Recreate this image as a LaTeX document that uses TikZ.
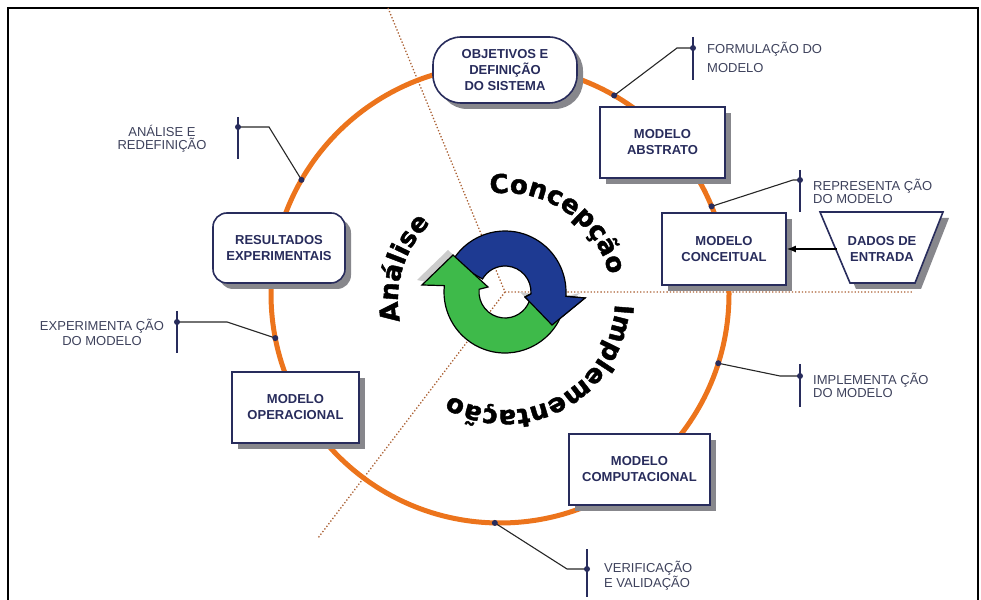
\documentclass[tikz,border=0pt]{standalone}
\usepackage{fontspec}
\setmainfont{Liberation Sans}
\newfontfamily\dejavu{DejaVu Sans}[BoldFeatures={FakeBold=1.6}]
\usetikzlibrary{shadows,decorations.text,arrows.meta,calc}
\definecolor{orng}{RGB}{236,116,28}
\definecolor{navy}{RGB}{40,44,92}
\definecolor{annot}{RGB}{62,66,92}
\definecolor{dotc}{RGB}{170,95,50}
\definecolor{shd}{RGB}{135,135,140}
\definecolor{bluearr}{RGB}{30,58,146}
\definecolor{greenarr}{RGB}{62,186,74}
\newcommand\circf{\dejavu\bfseries\fontsize{26}{26}\selectfont}
\begin{document}
\begin{tikzpicture}[x=1pt,y=1pt,
  box/.style={draw=navy, line width=1.6pt, fill=white, align=center,
    font=\bfseries\fontsize{13}{16}\selectfont, text=navy, inner sep=0pt,
    drop shadow={shadow xshift=6pt, shadow yshift=-6pt, fill=shd, opacity=1}},
  boxtext/.style={align=center, font=\bfseries\fontsize{13}{16}\selectfont, text=navy, inner sep=0pt},
  ann/.style={font=\fontsize{13}{13}\selectfont, text=annot, inner sep=0pt},
  leader/.style={draw=black!85, line width=1.1pt},
  tickline/.style={draw=navy, line width=1.2pt},
  dotmark/.style={fill=navy},
  dotline/.style={draw=dotc, dotted, line width=1.3pt},
  arrowout/.style={draw=black, line width=1.2pt}
]
\useasboundingbox (0,0) rectangle (981,599);

% frame
\draw[line width=1.5pt] (8,-2) -- (8,591) -- (978,591) -- (978,-2);

% dotted sector lines
\coordinate (D) at (505,307);
\coordinate (dA) at (388,591);
\coordinate (dB) at (318,61);
\coordinate (dC) at (913,307);
\draw[dotline] (dA) -- (D) -- (dC);
\draw[dotline] (D) -- (dB);

% orange cycle
\coordinate (O) at (500,305);
\draw[orng, line width=5pt] (O) circle[radius=229];

% annotation points on the circle
\path (O) ++(150.1:229) coordinate (p1);
\path (O) ++(60.1:229) coordinate (p2);
\path (O) ++(22.5:229) coordinate (p3);
\path (O) ++(-17.6:229) coordinate (p4);
\path (O) ++(-91.3:229) coordinate (p5);
\path (O) ++(191.1:229) coordinate (p6);

\coordinate (k1) at (238,472);
\coordinate (k2) at (693,551);
\coordinate (k3) at (800,419);
\coordinate (k4) at (800,223);
\coordinate (k5) at (587,30);
\coordinate (k6) at (177,277);

\draw[leader] (p1) -- (269,472) -- (k1);
\draw[leader] (p2) -- (677,551) -- (k2);
\draw[leader] (p3) -- (793,419) -- (k3);
\draw[leader] (p4) -- (780,223) -- (k4);
\draw[leader] (p5) -- (567,30) -- (k5);
\draw[leader] (p6) -- (227,277) -- (k6);

\draw[tickline] (238,482) -- (238,440);
\draw[tickline] (693,562) -- (693,519);
\draw[tickline] (800,429) -- (800,387);
\draw[tickline] (800,235) -- (800,192);
\draw[tickline] (587,50) -- (587,2);
\draw[tickline] (177,288) -- (177,246);

\foreach \p in {p1,p2,p3,p4,p5,p6,k1,k2,k3,k4,k5,k6}
  \fill[dotmark] (\p) circle[radius=3];

% annotation texts
\node[ann, align=center] (t1) at (162,460.5) {ANÁLISE E\\REDEFINIÇÃO};
\node[ann, align=left, anchor=west, font=\fontsize{13}{19}\selectfont] (t2) at (707,541.5) {FORMULAÇÃO DO\\MODELO};
\node[ann, align=left, anchor=west] (t3) at (813,407.5) {REPRESENTA ÇÃO\\DO MODELO};
\node[ann, align=left, anchor=west] (t4) at (813,213.5) {IMPLEMENTA ÇÃO\\DO MODELO};
\node[ann, align=left, anchor=west, font=\fontsize{13}{14}\selectfont] (t5) at (604,23) {VERIFICAÇÃO\\E VALIDAÇÃO};
\node[ann, align=center, font=\fontsize{13}{15}\selectfont] (t6) at (102,266.5) {EXPERIMENTA ÇÃO\\DO MODELO};

% boxes
\node[box, rounded corners=28pt, minimum width=144pt, minimum height=66pt] (obj) at (505,529) {OBJETIVOS E\\DEFINIÇÃO\\DO SISTEMA};
\node[box, minimum width=125pt, minimum height=71pt] (abs) at (662.5,456.5) {MODELO\\ABSTRATO};
\node[box, minimum width=124pt, minimum height=72pt] (conc) at (724,350) {MODELO\\CONCEITUAL};
\node[box, minimum width=141pt, minimum height=71pt] (comp) at (639.5,129.5) {MODELO\\COMPUTACIONAL};
\node[box, minimum width=127pt, minimum height=71pt] (oper) at (295.5,191.5) {MODELO\\OPERACIONAL};
\node[box, rounded corners=14pt, minimum width=132pt, minimum height=70pt] (res) at (279,351) {RESULTADOS\\EXPERIMENTAIS};

% input data trapezoid
\path[draw=navy, line width=1.6pt, fill=white,
  drop shadow={shadow xshift=6pt, shadow yshift=-6pt, fill=shd, opacity=1}]
  (820,387) -- (943,387) -- (915,316) -- (850,316) -- cycle;
\node[boxtext, inner xsep=11pt] (dados) at (882,350) {DADOS DE\\ENTRADA};
\draw[-{Latex[length=9pt,width=7pt]}, line width=1.5pt] (dados.west) -- (conc.east);

% central cycle arrows
\coordinate (A) at (505,307);
\begin{scope}[shift={(-5,5)}]
  \fill[black!20] ($(A)+(150:61)$) arc[start angle=150, end angle=-4, radius=61]
    -- (585,301) -- (552,274) -- (525,302) -- ($(A)+(-4:26)$)
    arc[start angle=-4, end angle=150, radius=26] -- cycle;
  \fill[black!20] ($(A)+(-20:61)$) arc[start angle=-20, end angle=-186, radius=61]
    -- (422,314) -- (453,344) -- (488,312) -- ($(A)+(-186:26)$)
    arc[start angle=-186, end angle=-20, radius=26] -- cycle;
\end{scope}
\path[fill=bluearr, arrowout] ($(A)+(150:61)$) arc[start angle=150, end angle=-4, radius=61]
  -- (585,301) -- (552,274) -- (525,302) -- ($(A)+(-4:26)$)
  arc[start angle=-4, end angle=150, radius=26] -- cycle;
\path[fill=greenarr, arrowout] ($(A)+(-20:61)$) arc[start angle=-20, end angle=-186, radius=61]
  -- (422,314) -- (453,344) -- (488,312) -- ($(A)+(-186:26)$)
  arc[start angle=-186, end angle=-20, radius=26] -- cycle;
\fill[bluearr] (525,302) -- (585,301) -- (552,274) -- cycle;
\draw[arrowout] ($(A)+(-4:26)$) -- (525,302) -- (552,274) -- (585,301) -- ($(A)+(-4:61)$);

% circular phase labels
\coordinate (T) at (505,299);
\path[decorate, decoration={text along path, text={|\circf|Concepção}}]
  ($(T)+(98:107)$) arc[start angle=98, end angle=-30, radius=107];
\path[decorate, decoration={text along path, text={|\circf|Implementação}}]
  ($(T)+(-2.2:110)$) arc[start angle=-2.2, end angle=-170, radius=110];
\path[decorate, decoration={text along path, text={|\circf|Análise}}]
  ($(T)+(191.5:107)$) arc[start angle=191.5, end angle=110, radius=107];
\end{tikzpicture}
\end{document}
